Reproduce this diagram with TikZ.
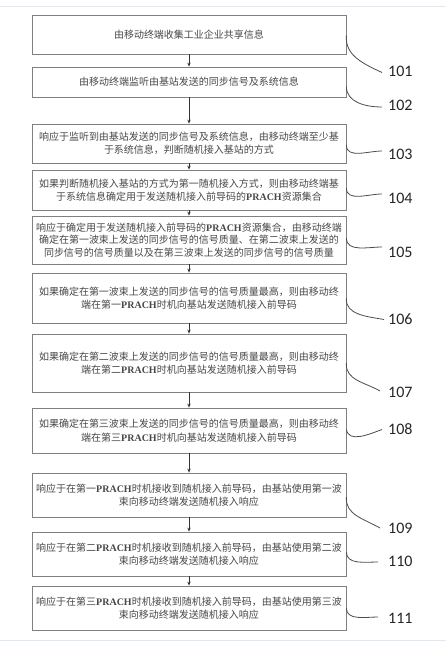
\documentclass[tikz,border=0pt]{standalone}
\usepackage{fontspec}
\usepackage{tikz}
\usetikzlibrary{arrows.meta,positioning}
\newfontfamily\cjk{Noto Sans CJK SC}
\newfontfamily\latinbf{Liberation Serif}
\newfontfamily\numfont{Carlito}
\definecolor{boxcolor}{RGB}{128,128,128}
\definecolor{rulecolor}{RGB}{221,232,243}
\newcommand{\prach}{{\latinbf\bfseries PRACH}}

\begin{document}
\begin{tikzpicture}[x=1pt,y=1pt,
  stepbox/.style={rectangle,draw=boxcolor,line width=0.8pt,text width=308pt,inner sep=3pt,
                  align=center,text=black!72,font=\cjk\fontsize{10}{13.4}\selectfont},
  flow/.style={-{Stealth[length=4pt,width=3.4pt]},line width=0.7pt,black!80},
  leader/.style={line width=0.8pt,black!70},
  num/.style={anchor=west,inner sep=4pt,font=\numfont\fontsize{16}{16}\selectfont,text=black!85}
]
\useasboundingbox (0,0) rectangle (446,-654);
\draw[rulecolor,line width=0.8pt] (0,-6) -- (446,-6);
\draw[rulecolor,line width=0.8pt] (0,-640) -- (446,-640);

\node[stepbox,minimum height=39pt] (b1) at (189,-34.5)
  {由移动终端收集工业企业共享信息};
\node[stepbox,minimum height=30pt] (b2) at (189,-82)
  {由移动终端监听由基站发送的同步信号及系统信息};
\node[stepbox,minimum height=39pt] (b3) at (189,-143.5)
  {响应于监听到由基站发送的同步信号及系统信息，由移动终端至少基\\于系统信息，判断随机接入基站的方式};
\node[stepbox,minimum height=40pt] (b4) at (189,-190)
  {如果判断随机接入基站的方式为第一随机接入方式，则由移动终端基\\于系统信息确定用于发送随机接入前导码的\prach 资源集合};
\node[stepbox,minimum height=48pt,font=\cjk\fontsize{10}{12.2}\selectfont] (b5) at (189,-240)
  {响应于确定用于发送随机接入前导码的\prach 资源集合，由移动终端\\确定在第一波束上发送的同步信号的信号质量、在第二波束上发送的\\同步信号的信号质量以及在第三波束上发送的同步信号的信号质量};
\node[stepbox,minimum height=50pt] (b6) at (189,-298)
  {如果确定在第一波束上发送的同步信号的信号质量最高，则由移动终\\端在第一\prach 时机向基站发送随机接入前导码};
\node[stepbox,minimum height=58pt] (b7) at (189,-363)
  {如果确定在第二波束上发送的同步信号的信号质量最高，则由移动终\\端在第二\prach 时机向基站发送随机接入前导码};
\node[stepbox,minimum height=45pt] (b8) at (189,-430.5)
  {如果确定在第三波束上发送的同步信号的信号质量最高，则由移动终\\端在第三\prach 时机向基站发送随机接入前导码};
\node[stepbox,minimum height=44pt] (b9) at (189,-495)
  {响应于在第一\prach 时机接收到随机接入前导码，由基站使用第一波\\束向移动终端发送随机接入响应};
\node[stepbox,minimum height=44pt] (b10) at (189,-554)
  {响应于在第二\prach 时机接收到随机接入前导码，由基站使用第二波\\束向移动终端发送随机接入响应};
\node[stepbox,minimum height=44pt] (b11) at (189,-608)
  {响应于在第三\prach 时机接收到随机接入前导码，由基站使用第三波\\束向移动终端发送随机接入响应};

\draw[flow] (b1) -- (b2);
\draw[flow] (b2) -- (b3);
\draw[flow] (b3) -- (b4);
\draw[flow] (b4) -- (b5);
\draw[flow] (b5) -- (b6);
\draw[flow] (b6) -- (b7);
\draw[flow] (b7) -- (b8);
\draw[flow] (b8) -- (b9);
\draw[flow] (b9) -- (b10);
\draw[flow] (b10) -- (b11);

\node[num] (l101) at (384,-71.5) {101};
\node[num] (l102) at (384,-105) {102};
\node[num] (l103) at (384,-154) {103};
\node[num] (l104) at (384,-198) {104};
\node[num] (l105) at (384,-252) {105};
\node[num] (l106) at (384,-319.5) {106};
\node[num] (l107) at (384,-392) {107};
\node[num] (l108) at (384,-429.5) {108};
\node[num] (l109) at (384,-528) {109};
\node[num] (l110) at (384,-561) {110};
\node[num] (l111) at (384,-618) {111};

\draw[leader] ([yshift=-1pt]b1.east) to[out=-95,in=155] ([xshift=-2pt,yshift=-1pt]l101.west);
\draw[leader] ([yshift=-4.5pt]b2.east) to[out=-90,in=180] ([xshift=-2pt,yshift=-2pt]l102.west);
\draw[leader] ([yshift=-1.5pt]b3.east) to[out=-90,in=180] ([xshift=-2pt,yshift=3pt]l103.west);
\draw[leader] ([yshift=2pt]b4.east) to[out=-90,in=180] ([xshift=-2pt,yshift=4pt]l104.west);
\draw[leader] ([yshift=2pt]b5.east) to[out=-90,in=180] ([xshift=-2pt,yshift=5pt]l105.west);
\draw[leader] (b6.east) to[out=-95,in=170] ([xshift=0pt]l106.west);
\draw[leader] (b7.east) to[out=-95,in=150] ([xshift=-4pt,yshift=1pt]l107.west);
\draw[leader] ([yshift=1pt]b8.east) to[out=-80,in=200] ([xshift=-2pt,yshift=0pt]l108.west);
\draw[leader] ([yshift=-2pt]b9.east) to[out=-95,in=150] ([xshift=-4pt]l109.west);
\draw[leader] ([yshift=2pt]b10.east) to[out=-90,in=180] ([xshift=-6pt,yshift=-1pt]l110.west);
\draw[leader] (b11.east) to[out=-90,in=180] ([xshift=-6pt,yshift=1pt]l111.west);
\end{tikzpicture}
\end{document}
